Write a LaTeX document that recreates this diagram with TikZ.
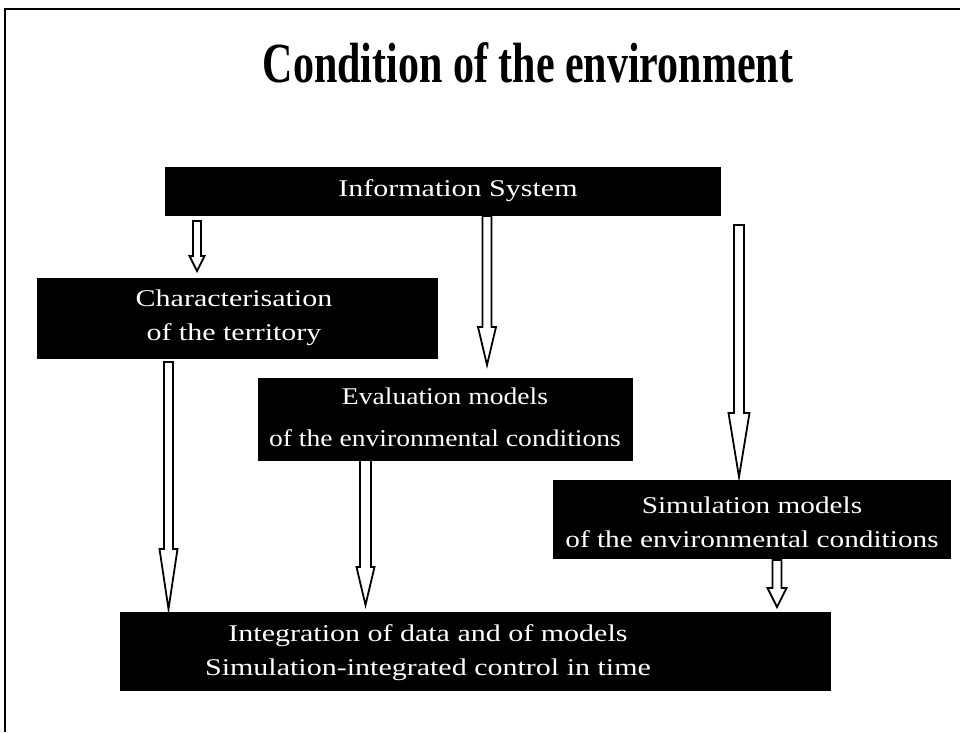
\documentclass[tikz,border=0pt]{standalone}
\usepackage{fontspec}
\setmainfont{Liberation Serif}
\begin{document}
\begin{tikzpicture}[x=1pt,y=-1pt,
  blackbox/.style={draw=black,fill=black,inner sep=0pt,anchor=north west},
  boxtext/.style={text=white,font=\fontsize{24}{36}\selectfont,align=center,inner sep=0pt},
  blockarrow/.style={draw=black,line width=1.8pt,fill=white,line join=miter}]
\useasboundingbox (0,0) rectangle (960,732);
\fill[white] (0,0) rectangle (960,732);
% frame
\draw[line width=1.6pt] (5,732) -- (5,9) -- (960,9);
% title
\node[font=\bfseries\fontsize{42}{48}\selectfont,inner sep=0pt] (title) at (528,63)
  {\scalebox{1}[1.35]{Condition of the environment}};
% boxes
\node[blackbox,minimum width=555pt,minimum height=48pt] (info) at (165,167) {};
\node[blackbox,minimum width=400pt,minimum height=80pt] (char) at (37,278) {};
\node[blackbox,minimum width=374pt,minimum height=82pt] (eval) at (258,378) {};
\node[blackbox,minimum width=397pt,minimum height=78pt] (simu) at (553,480) {};
\node[blackbox,minimum width=710pt,minimum height=78pt] (integ) at (120,612) {};
% texts
\node[boxtext] (infotxt) at (458,191) {\scalebox{1.25}[1]{Information System}};
\node[boxtext] (chartxt) at (234,316) {\scalebox{1.25}[1]{\begin{tabular}{@{}c@{}}Characterisation\\[-2pt] of the territory\end{tabular}}};
\node[boxtext] (evaltxt) at (445,418) {\scalebox{1.15}[1]{\begin{tabular}{@{}c@{}}Evaluation models\\[6pt] of the environmental conditions\end{tabular}}};
\node[boxtext] (simutxt) at (752,523) {\scalebox{1.22}[1]{\begin{tabular}{@{}c@{}}Simulation models\\[-2pt] of the environmental conditions\end{tabular}}};
\node[boxtext] (integtxt) at (428,651) {\scalebox{1.25}[1]{\begin{tabular}{@{}c@{}}Integration of data and of models\\[-2pt] Simulation-integrated control in time\end{tabular}}};
% block arrows: x, top, tip, shaft width, head width, head length
\newcommand{\blockarr}[6]{%
  \draw[blockarrow] ({#1-#4/2},#2) -- ({#1-#4/2},{#3-#6}) -- ({#1-#5/2},{#3-#6}) --
    (#1,#3) -- ({#1+#5/2},{#3-#6}) -- ({#1+#4/2},{#3-#6}) -- ({#1+#4/2},#2) -- cycle;}
\blockarr{197}{221}{271}{8}{15}{15}
\blockarr{487}{216}{365}{9}{18}{38}
\blockarr{739}{225}{477}{10}{21}{64}
\blockarr{168.5}{362}{609}{9}{18}{60}
\blockarr{365.5}{460}{605}{11}{18}{38}
\blockarr{777}{560}{607}{9}{19}{19}
\end{tikzpicture}
\end{document}
